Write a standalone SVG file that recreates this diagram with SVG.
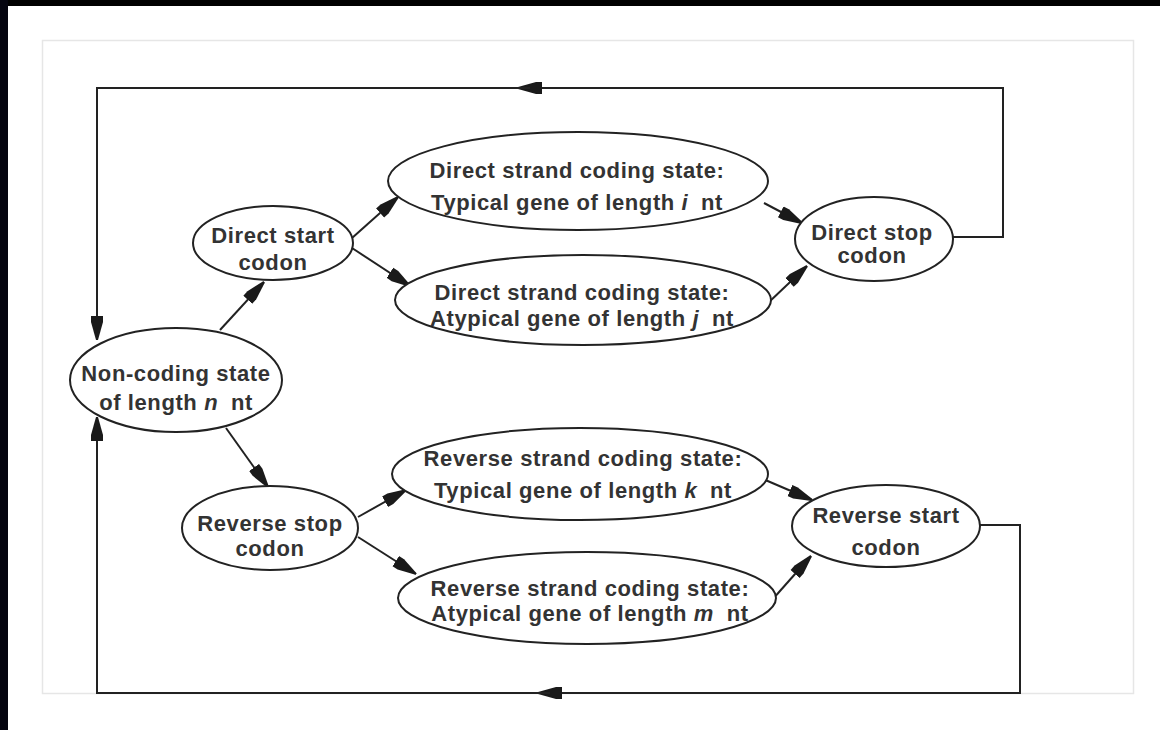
<svg xmlns="http://www.w3.org/2000/svg" width="1160" height="730" viewBox="0 0 1160 730">
<defs>
<style>
.node ellipse{fill:#fff;stroke:#222;stroke-width:2}
.node text{font-family:"Liberation Sans",Arial,sans-serif;font-weight:bold;font-size:22px;letter-spacing:0.6px;fill:#333;text-anchor:middle}
.node tspan.v{font-style:italic}
#connectors path{fill:none;stroke:#222;stroke-width:2}
</style>
<marker id="ah" markerUnits="userSpaceOnUse" markerWidth="26" markerHeight="16" refX="24" refY="7" orient="auto">
<path d="M0,1 L6,1 L24,6 L24,8 L6,13 L0,13 z" fill="#1a1a1a"/>
</marker>
</defs>
<rect width="1160" height="730" fill="#fff"/>
<rect x="0" y="0" width="1160" height="6" fill="#000"/>
<rect x="0" y="0" width="8" height="730" fill="#05050f"/>
<rect x="42.5" y="40.5" width="1091" height="653" fill="none" stroke="#e6e6e6" stroke-width="1.5"/>
<g id="connectors">
<path d="M950,237 H1003 V88 H518" marker-end="url(#ah)"/>
<path d="M530,88 H97 V340" marker-end="url(#ah)"/>
<path d="M980,525 H1020 V693 H538" marker-end="url(#ah)"/>
<path d="M550,693 H97 V417" marker-end="url(#ah)"/>
<path d="M220,330 L264,282" marker-end="url(#ah)"/>
<path d="M352,238 L398,197" marker-end="url(#ah)"/>
<path d="M352,248 L410,286" marker-end="url(#ah)"/>
<path d="M764,203 L802,223" marker-end="url(#ah)"/>
<path d="M768,303 L807,266" marker-end="url(#ah)"/>
<path d="M226,428 L268,487" marker-end="url(#ah)"/>
<path d="M358,517 L406,490" marker-end="url(#ah)"/>
<path d="M358,537 L416,574" marker-end="url(#ah)"/>
<path d="M763,479 L812,500" marker-end="url(#ah)"/>
<path d="M772,600 L811,556" marker-end="url(#ah)"/>
</g>
<g id="noncoding" class="node"><ellipse cx="176" cy="380" rx="106" ry="52"/><text x="176" y="381">Non-coding state</text><text x="176" y="410">of length <tspan class="v">n</tspan><tspan dx="6"> nt</tspan></text></g>
<g id="directstart" class="node"><ellipse cx="273" cy="243" rx="80" ry="37"/><text x="273" y="243">Direct start</text><text x="273" y="270">codon</text></g>
<g id="directtypical" class="node"><ellipse cx="578" cy="181" rx="190" ry="49"/><text x="577" y="178">Direct strand coding state:</text><text x="577" y="210">Typical gene of length <tspan class="v">i</tspan><tspan dx="6"> nt</tspan></text></g>
<g id="directatypical" class="node"><ellipse cx="583" cy="300" rx="188" ry="45"/><text x="582" y="300">Direct strand coding state:</text><text x="582" y="326">Atypical gene of length <tspan class="v">j</tspan><tspan dx="6"> nt</tspan></text></g>
<g id="directstop" class="node"><ellipse cx="874" cy="239" rx="79" ry="42"/><text x="872" y="240">Direct stop</text><text x="872" y="263">codon</text></g>
<g id="reversestop" class="node"><ellipse cx="270" cy="528" rx="88" ry="42"/><text x="270" y="531">Reverse stop</text><text x="270" y="556">codon</text></g>
<g id="reversetypical" class="node"><ellipse cx="580" cy="474" rx="188" ry="46"/><text x="583" y="466">Reverse strand coding state:</text><text x="583" y="498">Typical gene of length <tspan class="v">k</tspan><tspan dx="6"> nt</tspan></text></g>
<g id="reverseatypical" class="node"><ellipse cx="587" cy="598" rx="189" ry="46"/><text x="590" y="596">Reverse strand coding state:</text><text x="590" y="621">Atypical gene of length <tspan class="v">m</tspan><tspan dx="6"> nt</tspan></text></g>
<g id="reversestart" class="node"><ellipse cx="886" cy="526" rx="94" ry="41"/><text x="886" y="523">Reverse start</text><text x="886" y="555">codon</text></g>
</svg>
